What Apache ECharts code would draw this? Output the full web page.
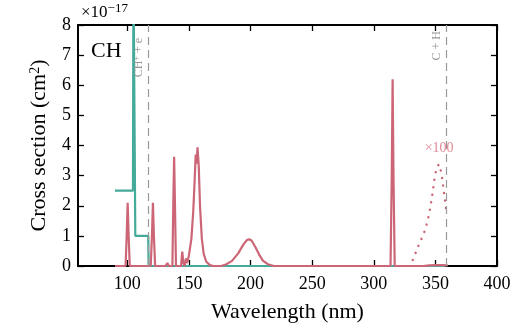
<!DOCTYPE html>
<html><head><meta charset="utf-8">
<script src="https://cdn.jsdelivr.net/npm/echarts@6/dist/echarts.min.js"></script>
<style>html,body{margin:0;padding:0;background:#fff}#c{width:525px;height:324px}</style>
</head><body><div id="c"></div>
<script>
// ---- data ----
const xTicks = [100, 150, 200, 250, 300, 350, 400];
const yTicks = [0, 1, 2, 3, 4, 5, 6, 7, 8];
// photoionisation cross section (teal), x = wavelength nm, y = 1e-17 cm^2
const ionWl  = [90, 104.6, 105.0, 106.0, 106.5, 117.0, 117.3, 358];
const ionVal = [2.5, 2.5, 10, 10, 1.0, 1.0, 0, 0];
// photodissociation cross section (rose)
const disWl  = [90, 98.6, 99.5, 100.3, 101.1, 102.0, 119.0, 120.0, 120.8, 121.6, 122.6,
  131.0, 132.5, 133.8, 136.6, 137.3, 138.0, 138.7, 139.5, 143.6, 144.6, 145.5, 146.6, 147.6, 148.6,
  150.0, 152.0, 153.5, 154.5, 155.5, 156.2, 157.0, 158.0, 159.0, 160.5, 162.0, 164.0, 167.0, 170.0,
  176.0, 180.0, 185.0, 190.0, 194.0, 197.0, 199.0, 201.0, 204.0, 207.0, 210.0, 214.0, 219.0,
  313.6, 314.6, 315.3, 316.0, 317.0, 340.0, 345.0, 350.0, 353.0, 356.0, 359.0, 360.0];
const disVal = [0, 0, 1.0, 2.1, 1.0, 0, 0, 1.0, 2.1, 1.0, 0,
  0, 0.1, 0, 0, 2.0, 3.63, 2.0, 0, 0, 0.48, 0.1, 0, 0.25, 0.1,
  0.35, 0.9, 1.8, 2.7, 3.7, 3.4, 3.94, 3.3, 2.0, 0.9, 0.4, 0.15, 0.03, 0,
  0, 0.05, 0.17, 0.42, 0.7, 0.86, 0.89, 0.84, 0.62, 0.38, 0.18, 0.06, 0,
  0, 3.0, 6.2, 3.0, 0, 0, 0.018, 0.031, 0.034, 0.03, 0.018, 0.01];
// the same band magnified x100 (dotted)
const magWl  = [331.6, 334.1, 336.7, 339.4, 341.9, 343.5, 345.1, 346.2, 347.3, 348.3, 349.1, 350.3,
  352.7, 354.3, 355.4, 356.4, 357.2, 358.1, 358.9];
const magVal = [0.2, 0.45, 0.72, 0.96, 1.22, 1.48, 1.76, 2.04, 2.30, 2.58, 2.85, 3.12,
  3.38, 3.18, 2.94, 2.63, 2.36, 2.08, 1.80];
// thresholds
const thrWl   = [117.0, 358.5];
const thrText = ['CH{s|+} + e', 'C + H'];

const zip = (a, b) => a.map((v, i) => [v, b[i]]);
const FONT = 'Liberation Serif';
const TEAL = '#44aa99', ROSE = '#cc6677';
const thrDist = [[13, 3], [6, 3]];

const chart = echarts.init(document.getElementById('c'), null, {renderer: 'canvas'});
const axisCommon = {
  type: 'value', splitLine: {show: false},
  axisLine: {show: true, onZero: false, lineStyle: {color: '#000', width: 2}},
};
chart.setOption({
  animation: false,
  grid: {left: 78, right: 28, top: 25, bottom: 58, containLabel: false, outerBoundsMode: 'none'},
  xAxis: [
    Object.assign({}, axisCommon, {
      min: 60, max: 400, position: 'bottom',
      axisTick: {inside: true, length: 6, customValues: xTicks, lineStyle: {color: '#000', width: 1.3}},
      axisLabel: {customValues: xTicks, color: '#000', fontFamily: FONT, fontSize: 18, margin: 9},
      name: 'Wavelength (nm)', nameLocation: 'middle', nameGap: 35,
      nameTextStyle: {color: '#000', fontFamily: FONT, fontSize: 22}
    }),
    Object.assign({}, axisCommon, {
      min: 60, max: 400, position: 'top',
      axisTick: {inside: true, length: 6, customValues: xTicks, lineStyle: {color: '#000', width: 1.3}},
      axisLabel: {show: false}
    })
  ],
  yAxis: [
    Object.assign({}, axisCommon, {
      min: 0, max: 8, interval: 1, position: 'left',
      axisTick: {inside: true, length: 6, lineStyle: {color: '#000', width: 1.3}},
      axisLabel: {customValues: yTicks, color: '#000', fontFamily: FONT, fontSize: 18, margin: 7},
      name: 'Cross section (cm{s|2})', nameLocation: 'middle', nameGap: 26, nameRotate: 90,
      nameTextStyle: {color: '#000', fontFamily: FONT, fontSize: 22,
        rich: {s: {fontFamily: FONT, fontSize: 14, verticalAlign: 'top', lineHeight: 14, padding: [0, 0, 9, 0]}}}
    }),
    Object.assign({}, axisCommon, {
      min: 0, max: 8, interval: 1, position: 'right',
      axisTick: {inside: true, length: 6, lineStyle: {color: '#000', width: 1.3}},
      axisLabel: {show: false}
    })
  ],
  series: [
    {
      type: 'line', data: zip(ionWl, ionVal), symbol: 'none', clip: true,
      lineStyle: {color: TEAL, width: 2.2}, z: 2,
      markLine: {
        silent: true, symbol: 'none', animation: false,
        lineStyle: {color: '#999', width: 1.2, type: [8, 5]},
        label: {
          position: 'insideEndTop', color: '#999', fontFamily: FONT, fontSize: 12,
          rich: {s: {fontFamily: FONT, fontSize: 8, verticalAlign: 'top', color: '#999'}}
        },
        data: thrWl.map((w, i) => ({xAxis: w, label: {formatter: thrText[i], distance: thrDist[i]}}))
      }
    },
    {
      type: 'line', data: zip(disWl, disVal), symbol: 'none', clip: true,
      lineStyle: {color: ROSE, width: 2.2}, z: 3
    },
    {
      type: 'line', data: zip(magWl, magVal), symbol: 'none', clip: true,
      lineStyle: {color: ROSE, width: 2.4, type: [0.1, 7.5], cap: 'round'}, z: 3,
      markPoint: {
        symbol: 'circle', symbolSize: 0, silent: true,
        label: {show: true, formatter: '×100', color: '#e08a98', fontFamily: FONT, fontSize: 14, position: 'inside'},
        data: [{coord: [353, 3.92]}]
      }
    }
  ],
  graphic: [
    {type: 'text', left: 91, top: 40, style: {text: 'CH', font: '22px "Liberation Serif"', fill: '#000'}},
    {type: 'text', left: 81, top: 2, style: {
      text: '×10{s|−17}', font: '17px "Liberation Serif"', fill: '#000',
      rich: {s: {font: '13px "Liberation Serif"', verticalAlign: 'top', padding: [0, 0, 8, 0]}}
    }}
  ]
});
</script></body></html>
